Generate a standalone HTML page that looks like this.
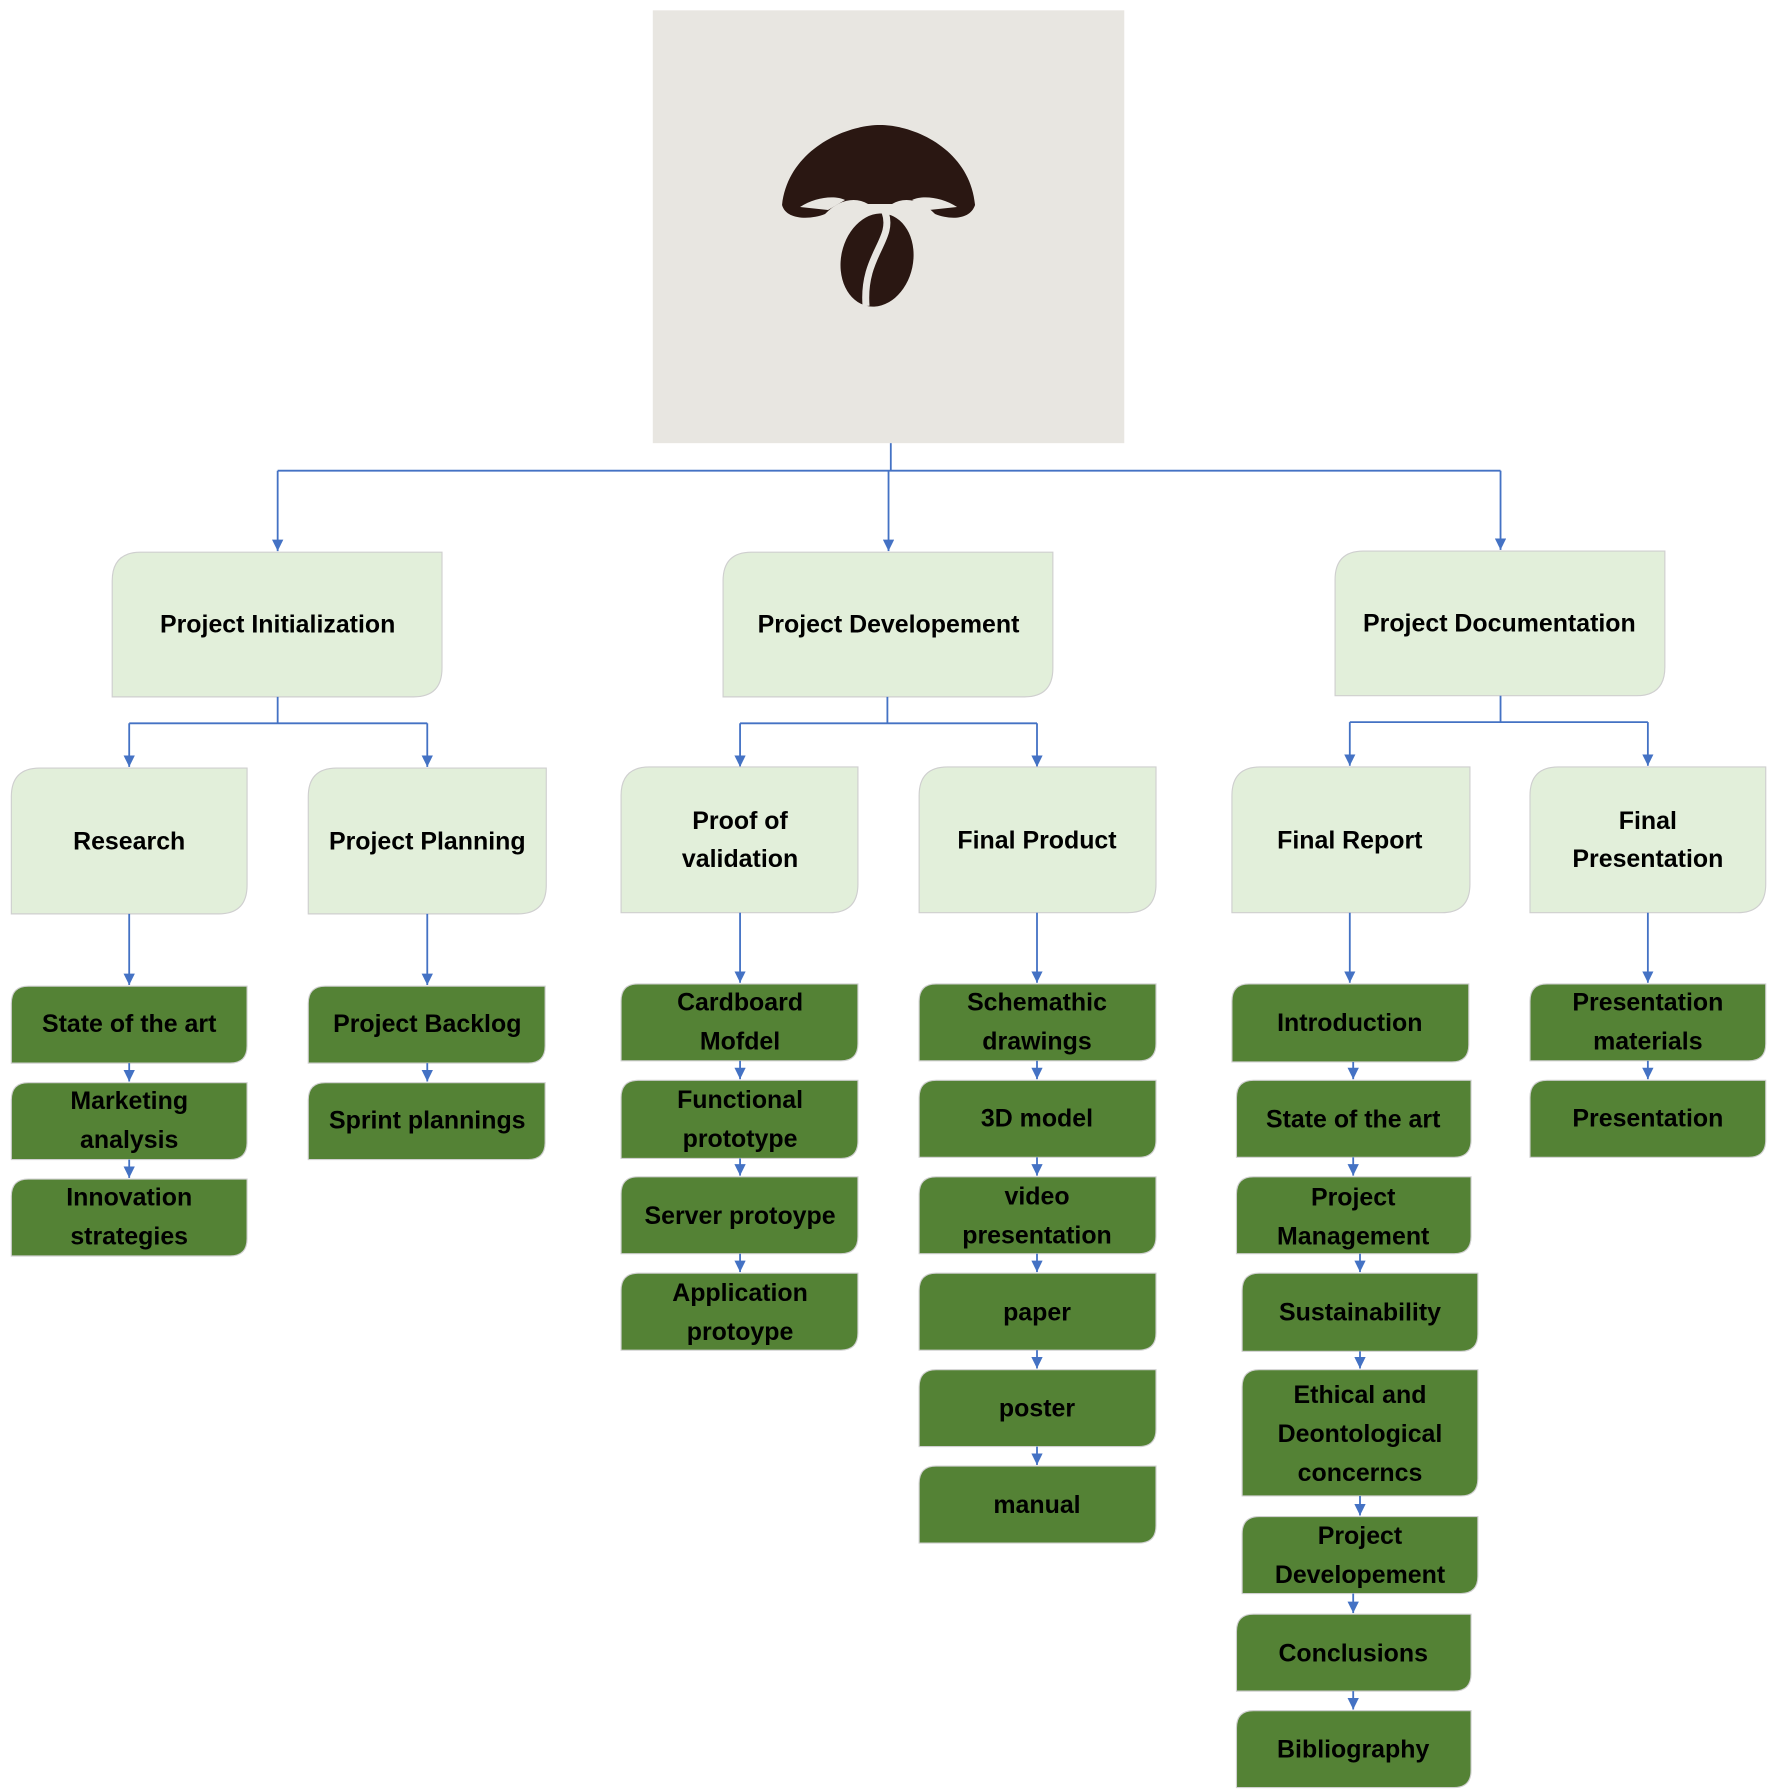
<!DOCTYPE html>
<html><head><meta charset="utf-8"><style>
html,body{margin:0;padding:0;background:#fff;}
svg{display:block;}
text{font-family:"Liberation Sans",sans-serif;font-weight:bold;font-size:22px;fill:#000;text-anchor:middle;}
.l{fill:#e2efda;stroke:#cfcfcf;stroke-width:1;}
.d{fill:#548235;stroke:#d0d0d0;stroke-width:1;}
.c{fill:none;stroke:#4472c4;stroke-width:1.6;}
</style></head><body>
<svg width="1768" height="1791" viewBox="0 0 1560 1560" preserveAspectRatio="none" xmlns="http://www.w3.org/2000/svg">
<defs>
<marker id="a" viewBox="0 0 10 10" refX="10" refY="5" markerWidth="10" markerHeight="10" orient="auto" markerUnits="userSpaceOnUse"><path d="M0,0 L10,5 L0,10 Z" fill="#4472c4"/></marker>
</defs>
<rect x="576" y="9" width="416" height="377" fill="#e8e6e1"/>
<g transform="scale(0.8824,0.8711)">
<path d="M782,205 C788,150 845,125 880,125 C915,125 970,150 975,205 C970,220 950,220 935,214 C922,200 905,196 892,204 L868,204 C855,196 838,200 825,214 C810,220 786,220 782,205 Z" fill="#2a1712"/>
<path d="M800,207 C815,197 835,195 845,200 L828,210 Z M957,207 C942,197 922,195 912,200 L929,210 Z" fill="#e8e6e1"/>
<ellipse cx="877" cy="260" rx="36" ry="47" transform="rotate(12 877 260)" fill="#2a1712"/>
<path d="M885,212 C895,240 862,255 866,306" stroke="#e8e6e1" stroke-width="7" fill="none"/>
</g>
<path class="c" d="M786,386 V410"/>
<path class="c" d="M245,410 H1324"/>
<path class="c" d="M245,410 V480" marker-end="url(#a)"/>
<path class="c" d="M784,410 V480" marker-end="url(#a)"/>
<path class="c" d="M1324,410 V479" marker-end="url(#a)"/>
<path class="l" d="M124,481 H390 V582 Q390,607 365,607 H99 V506 Q99,481 124,481 Z"/>
<text x="245" y="551">Project Initialization</text>
<path class="l" d="M663,481 H929 V582 Q929,607 904,607 H638 V506 Q638,481 663,481 Z"/>
<text x="784" y="551">Project Developement</text>
<path class="l" d="M1203,480 H1469 V581 Q1469,606 1444,606 H1178 V505 Q1178,480 1203,480 Z"/>
<text x="1323" y="550">Project Documentation</text>
<path class="c" d="M245,607 V630 M114,630 H377"/>
<path class="c" d="M114,630 V668" marker-end="url(#a)"/>
<path class="c" d="M377,630 V668" marker-end="url(#a)"/>
<path class="c" d="M783,607 V630 M653,630 H915"/>
<path class="c" d="M653,630 V668" marker-end="url(#a)"/>
<path class="c" d="M915,630 V668" marker-end="url(#a)"/>
<path class="c" d="M1324,606 V629 M1191,629 H1454"/>
<path class="c" d="M1191,629 V667" marker-end="url(#a)"/>
<path class="c" d="M1454,629 V667" marker-end="url(#a)"/>
<path class="l" d="M35,669 H218 V771 Q218,796 193,796 H10 V694 Q10,669 35,669 Z"/>
<text x="114" y="740">Research</text>
<path class="l" d="M297,669 H482 V771 Q482,796 457,796 H272 V694 Q272,669 297,669 Z"/>
<text x="377" y="740">Project Planning</text>
<path class="l" d="M573,668 H757 V770 Q757,795 732,795 H548 V693 Q548,668 573,668 Z"/>
<text x="653" y="722">Proof of</text><text x="653" y="755">validation</text>
<path class="l" d="M836,668 H1020 V770 Q1020,795 995,795 H811 V693 Q811,668 836,668 Z"/>
<text x="915" y="739">Final Product</text>
<path class="l" d="M1112,668 H1297 V770 Q1297,795 1272,795 H1087 V693 Q1087,668 1112,668 Z"/>
<text x="1191" y="739">Final Report</text>
<path class="l" d="M1375,668 H1558 V770 Q1558,795 1533,795 H1350 V693 Q1350,668 1375,668 Z"/>
<text x="1454" y="722">Final</text><text x="1454" y="755">Presentation</text>
<path class="c" d="M114,796 V858" marker-end="url(#a)"/>
<path class="c" d="M377,796 V858" marker-end="url(#a)"/>
<path class="c" d="M653,795 V856" marker-end="url(#a)"/>
<path class="c" d="M915,795 V856" marker-end="url(#a)"/>
<path class="c" d="M1191,795 V856" marker-end="url(#a)"/>
<path class="c" d="M1454,795 V856" marker-end="url(#a)"/>
<path class="d" d="M25,859 H218 V911 Q218,926 203,926 H10 V874 Q10,859 25,859 Z"/>
<text x="114" y="899">State of the art</text>
<path class="c" d="M114,926 V942" marker-end="url(#a)"/>
<path class="d" d="M25,943 H218 V995 Q218,1010 203,1010 H10 V958 Q10,943 25,943 Z"/>
<text x="114" y="966">Marketing</text><text x="114" y="1000">analysis</text>
<path class="c" d="M114,1010 V1026" marker-end="url(#a)"/>
<path class="d" d="M25,1027 H218 V1079 Q218,1094 203,1094 H10 V1042 Q10,1027 25,1027 Z"/>
<text x="114" y="1050">Innovation</text><text x="114" y="1084">strategies</text>
<path class="d" d="M287,859 H481 V911 Q481,926 466,926 H272 V874 Q272,859 287,859 Z"/>
<text x="377" y="899">Project Backlog</text>
<path class="c" d="M377,926 V942" marker-end="url(#a)"/>
<path class="d" d="M287,943 H481 V995 Q481,1010 466,1010 H272 V958 Q272,943 287,943 Z"/>
<text x="377" y="983">Sprint plannings</text>
<path class="d" d="M563,857 H757 V909 Q757,924 742,924 H548 V872 Q548,857 563,857 Z"/>
<text x="653" y="880">Cardboard</text><text x="653" y="914">Mofdel</text>
<path class="c" d="M653,924 V940" marker-end="url(#a)"/>
<path class="d" d="M563,941 H757 V994 Q757,1009 742,1009 H548 V956 Q548,941 563,941 Z"/>
<text x="653" y="965">Functional</text><text x="653" y="999">prototype</text>
<path class="c" d="M653,1009 V1024" marker-end="url(#a)"/>
<path class="d" d="M563,1025 H757 V1077 Q757,1092 742,1092 H548 V1040 Q548,1025 563,1025 Z"/>
<text x="653" y="1066">Server protoype</text>
<path class="c" d="M653,1092 V1108" marker-end="url(#a)"/>
<path class="d" d="M563,1109 H757 V1161 Q757,1176 742,1176 H548 V1124 Q548,1109 563,1109 Z"/>
<text x="653" y="1133">Application</text><text x="653" y="1167">protoype</text>
<path class="d" d="M826,857 H1020 V909 Q1020,924 1005,924 H811 V872 Q811,857 826,857 Z"/>
<text x="915" y="880">Schemathic</text><text x="915" y="914">drawings</text>
<path class="c" d="M915,924 V940" marker-end="url(#a)"/>
<path class="d" d="M826,941 H1020 V993 Q1020,1008 1005,1008 H811 V956 Q811,941 826,941 Z"/>
<text x="915" y="981">3D model</text>
<path class="c" d="M915,1008 V1024" marker-end="url(#a)"/>
<path class="d" d="M826,1025 H1020 V1077 Q1020,1092 1005,1092 H811 V1040 Q811,1025 826,1025 Z"/>
<text x="915" y="1049">video</text><text x="915" y="1083">presentation</text>
<path class="c" d="M915,1092 V1108" marker-end="url(#a)"/>
<path class="d" d="M826,1109 H1020 V1161 Q1020,1176 1005,1176 H811 V1124 Q811,1109 826,1109 Z"/>
<text x="915" y="1150">paper</text>
<path class="c" d="M915,1176 V1192" marker-end="url(#a)"/>
<path class="d" d="M826,1193 H1020 V1245 Q1020,1260 1005,1260 H811 V1208 Q811,1193 826,1193 Z"/>
<text x="915" y="1234">poster</text>
<path class="c" d="M915,1260 V1276" marker-end="url(#a)"/>
<path class="d" d="M826,1277 H1020 V1329 Q1020,1344 1005,1344 H811 V1292 Q811,1277 826,1277 Z"/>
<text x="915" y="1318">manual</text>
<path class="d" d="M1102,857 H1296 V910 Q1296,925 1281,925 H1087 V872 Q1087,857 1102,857 Z"/>
<text x="1191" y="898">Introduction</text>
<path class="c" d="M1194,925 V940" marker-end="url(#a)"/>
<path class="d" d="M1106,941 H1298 V993 Q1298,1008 1283,1008 H1091 V956 Q1091,941 1106,941 Z"/>
<text x="1194" y="982">State of the art</text>
<path class="c" d="M1194,1008 V1024" marker-end="url(#a)"/>
<path class="d" d="M1106,1025 H1298 V1077 Q1298,1092 1283,1092 H1091 V1040 Q1091,1025 1106,1025 Z"/>
<text x="1194" y="1050">Project</text><text x="1194" y="1084">Management</text>
<path class="c" d="M1200,1092 V1108" marker-end="url(#a)"/>
<path class="d" d="M1111,1109 H1304 V1162 Q1304,1177 1289,1177 H1096 V1124 Q1096,1109 1111,1109 Z"/>
<text x="1200" y="1150">Sustainability</text>
<path class="c" d="M1200,1177 V1192" marker-end="url(#a)"/>
<path class="d" d="M1111,1193 H1304 V1288 Q1304,1303 1289,1303 H1096 V1208 Q1096,1193 1111,1193 Z"/>
<text x="1200" y="1222">Ethical and</text><text x="1200" y="1256">Deontological</text><text x="1200" y="1290">concerncs</text>
<path class="c" d="M1200,1303 V1320" marker-end="url(#a)"/>
<path class="d" d="M1111,1321 H1304 V1373 Q1304,1388 1289,1388 H1096 V1336 Q1096,1321 1111,1321 Z"/>
<text x="1200" y="1345">Project</text><text x="1200" y="1379">Developement</text>
<path class="c" d="M1194,1388 V1405" marker-end="url(#a)"/>
<path class="d" d="M1106,1406 H1298 V1458 Q1298,1473 1283,1473 H1091 V1421 Q1091,1406 1106,1406 Z"/>
<text x="1194" y="1447">Conclusions</text>
<path class="c" d="M1194,1473 V1489" marker-end="url(#a)"/>
<path class="d" d="M1106,1490 H1298 V1542 Q1298,1557 1283,1557 H1091 V1505 Q1091,1490 1106,1490 Z"/>
<text x="1194" y="1531">Bibliography</text>
<path class="d" d="M1365,857 H1558 V909 Q1558,924 1543,924 H1350 V872 Q1350,857 1365,857 Z"/>
<text x="1454" y="880">Presentation</text><text x="1454" y="914">materials</text>
<path class="c" d="M1454,924 V940" marker-end="url(#a)"/>
<path class="d" d="M1365,941 H1558 V993 Q1558,1008 1543,1008 H1350 V956 Q1350,941 1365,941 Z"/>
<text x="1454" y="981">Presentation</text>
</svg>
</body></html>
